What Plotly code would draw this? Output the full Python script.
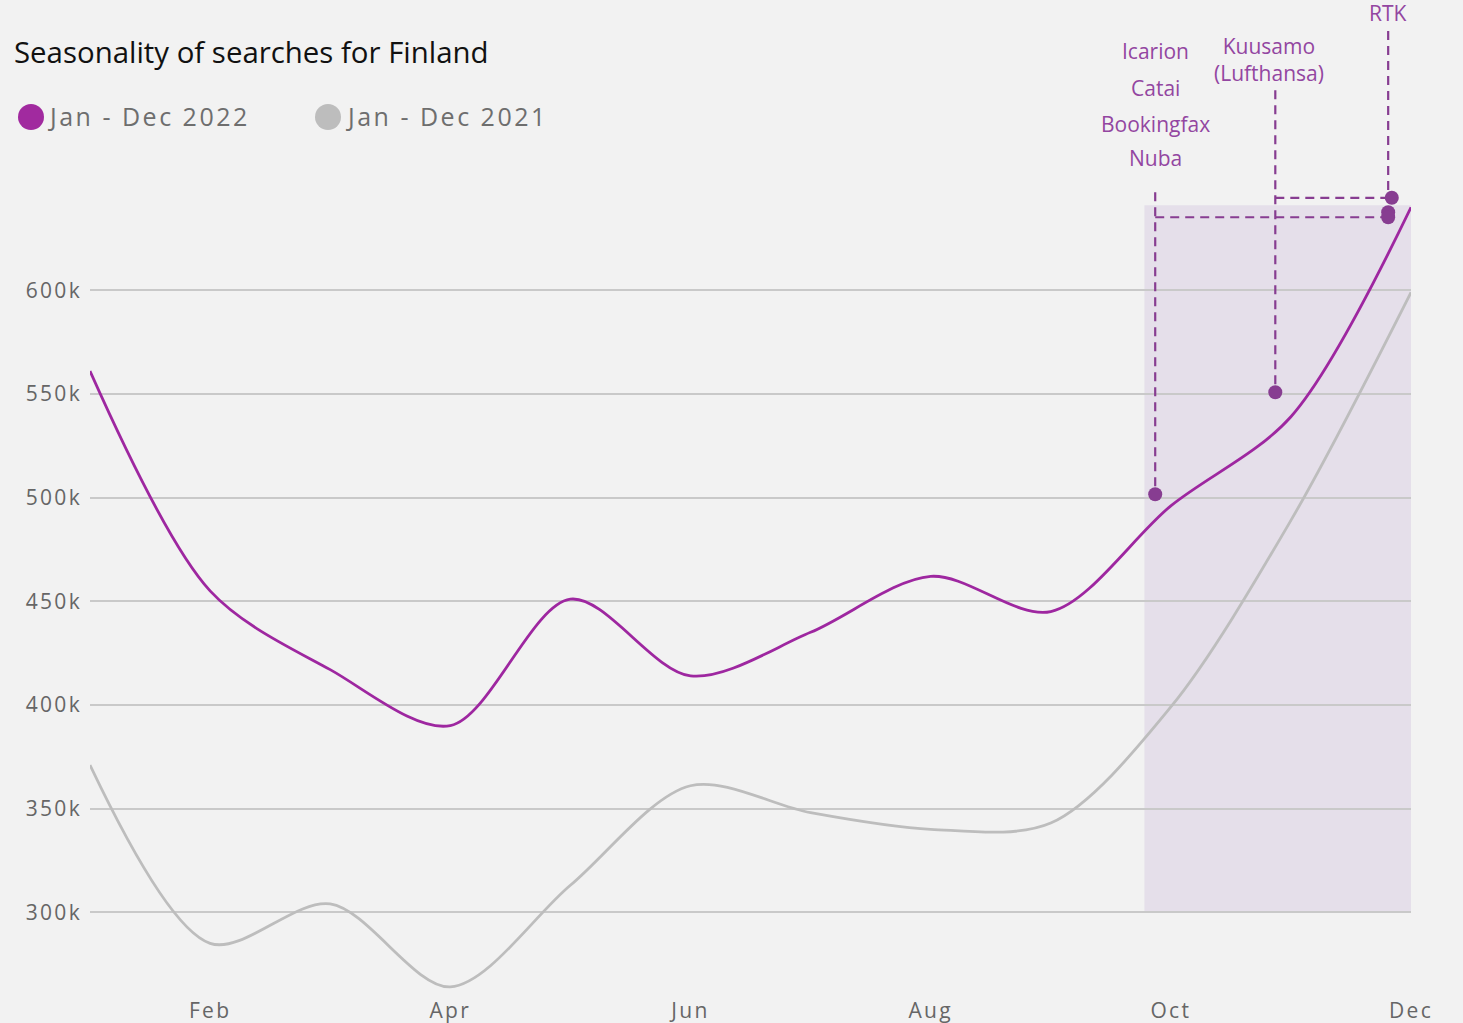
import plotly.graph_objects as go

# ---------------- data ----------------
months = list(range(12))  # Jan..Dec as month index
tick_months = [1, 3, 5, 7, 9, 11]
tick_labels = ["Feb", "Apr", "Jun", "Aug", "Oct", "Dec"]

searches_2022 = [561000, 455000, 417000, 390000, 451000, 414000,
                 435000, 462000, 445000, 496000, 539000, 640000]
searches_2021 = [371000, 285000, 304000, 264000, 313000, 361000,
                 348000, 340000, 343000, 399000, 489000, 599000]

y_ticks = [300000, 350000, 400000, 450000, 500000, 550000, 600000]
y_tick_labels = ["300k", "350k", "400k", "450k", "500k", "550k", "600k"]

# highlighted period
highlight_x = [8.78, 11]
highlight_y = [300000, 641000]

# events
events_icarion_x = 8.87
events_icarion_y = 501600
events_kuusamo_x = 9.87
events_kuusamo_y = 550800
rtk_x = 10.81
top_markers_x = [10.84, 10.81, 10.81]
top_markers_y = [644600, 637600, 635200]

labels_icarion = ["Icarion", "Catai", "Bookingfax", "Nuba"]
labels_icarion_y = [715200, 697600, 680300, 663900]
label_kuusamo = "Kuusamo<br>(Lufthansa)"
label_kuusamo_y = 711400
label_kuusamo_x = 9.82
label_rtk = "RTK"
label_rtk_y = 733600

icarion_line_top = 647300
kuusamo_line_top = 696500
rtk_line_top = 725000

series_names = ["Jan - Dec 2022", "Jan - Dec 2021"]

# ---------------- styling ----------------
BG = "#f2f2f2"
PURPLE = "#9e27a0"
GRAY = "#bdbdbd"
EVT = "#873d91"
EVT_TXT = "#9346a1"
FONT = "Open Sans"

W, H = 1463, 1023
ML, MR, MT, MB = 90, 52, 0, 32
PW = W - ML - MR
PH = H - MT - MB


def px_x(p):
    return (p - ML) / PW


def px_y(p):
    return (H - MB - p) / PH


fig = go.Figure()

fig.add_trace(go.Scatter(
    x=months, y=searches_2021, mode="lines", name=series_names[1],
    line=dict(color=GRAY, width=2.8, shape="spline", smoothing=0.9),
    showlegend=False, hoverinfo="skip"))
fig.add_trace(go.Scatter(
    x=months, y=searches_2022, mode="lines", name=series_names[0],
    line=dict(color=PURPLE, width=2.8, shape="spline", smoothing=0.9),
    showlegend=False, hoverinfo="skip"))

# event connectors
dash = "9px,6px"
fig.add_trace(go.Scatter(
    x=[events_icarion_x, events_icarion_x, None, events_icarion_x, top_markers_x[2]],
    y=[icarion_line_top, events_icarion_y, None, top_markers_y[2], top_markers_y[2]],
    mode="lines", line=dict(color=EVT, width=2.2, dash=dash),
    showlegend=False, hoverinfo="skip"))
fig.add_trace(go.Scatter(
    x=[events_kuusamo_x, events_kuusamo_x, None, events_kuusamo_x, top_markers_x[0]],
    y=[kuusamo_line_top, events_kuusamo_y, None, top_markers_y[0], top_markers_y[0]],
    mode="lines", line=dict(color=EVT, width=2.2, dash=dash),
    showlegend=False, hoverinfo="skip"))
fig.add_trace(go.Scatter(
    x=[rtk_x, rtk_x], y=[rtk_line_top, top_markers_y[0]],
    mode="lines", line=dict(color=EVT, width=2.2, dash=dash),
    showlegend=False, hoverinfo="skip"))

fig.add_trace(go.Scatter(
    x=[events_icarion_x, events_kuusamo_x] + top_markers_x,
    y=[events_icarion_y, events_kuusamo_y] + top_markers_y,
    mode="markers", marker=dict(color=EVT, size=14),
    showlegend=False, hoverinfo="skip", cliponaxis=False))

fig.add_shape(type="rect", xref="x", yref="y",
              x0=highlight_x[0], x1=highlight_x[1],
              y0=highlight_y[0], y1=highlight_y[1],
              fillcolor="#e5dfea", line=dict(width=0), layer="below")

annotations = []
# manual legend (annotation indices 0,1)
legend_text_x = [46, 344]
legend_circle_x = [31, 328]
legend_colors = ["#a12a9f", GRAY]
for name, tx in zip(series_names, legend_text_x):
    annotations.append(dict(
        text=name, xref="paper", yref="paper", x=px_x(tx), y=px_y(116),
        xanchor="left", yanchor="middle", align="left", showarrow=False,
        font=dict(family=FONT, size=25, color="#6e6e6e")))
for cx, col in zip(legend_circle_x, legend_colors):
    fig.add_shape(type="circle", xref="paper", yref="paper",
                  x0=px_x(cx - 13), x1=px_x(cx + 13),
                  y0=px_y(117 + 13), y1=px_y(117 - 13),
                  fillcolor=col, line=dict(width=0), layer="above")

for lab, ly in zip(labels_icarion, labels_icarion_y):
    annotations.append(dict(
        text=lab, xref="x", yref="y", x=events_icarion_x, y=ly,
        xanchor="center", yanchor="middle", showarrow=False,
        font=dict(family=FONT, size=21, color=EVT_TXT)))
annotations.append(dict(
    text=label_kuusamo, xref="x", yref="y", x=label_kuusamo_x, y=label_kuusamo_y,
    xanchor="center", yanchor="middle", showarrow=False,
    font=dict(family=FONT, size=21, color=EVT_TXT)))
annotations.append(dict(
    text=label_rtk, xref="x", yref="y", x=rtk_x, y=label_rtk_y,
    xanchor="center", yanchor="middle", showarrow=False,
    font=dict(family=FONT, size=21, color=EVT_TXT)))

fig.update_layout(
    width=W, height=H,
    margin=dict(l=ML, r=MR, t=MT, b=MB),
    paper_bgcolor=BG, plot_bgcolor=BG,
    showlegend=False,
    title=dict(text="Seasonality of searches for Finland",
               xref="container", yref="container",
               x=14 / W, y=1 - 53 / H, xanchor="left", yanchor="middle",
               font=dict(family=FONT, size=29.4, color="#111111")),
    annotations=annotations,
    xaxis=dict(range=[0, 11], tickvals=tick_months, ticktext=tick_labels,
               showgrid=False, zeroline=False, showline=False, ticks="",
               tickfont=dict(family=FONT, size=21, color="#666666"),
               ticklabelstandoff=5, fixedrange=True),
    yaxis=dict(range=[262000, 740000], tickvals=y_ticks, ticktext=y_tick_labels,
               showgrid=True, gridcolor="#c9c9c9", gridwidth=1.5,
               zeroline=False, showline=False, ticks="",
               tickfont=dict(family=FONT, size=21, color="#666666"),
               ticklabelstandoff=7, fixedrange=True),
)

post = """
var st=document.createElement('style');
st.textContent='html,body{margin:0;padding:0;background:#f2f2f2;overflow:hidden;} .xtick text,.ytick text{letter-spacing:2.3px;} .annotation[data-index="0"] text,.annotation[data-index="1"] text{letter-spacing:2.5px;}';
document.head.appendChild(st);
"""

fig.write_html("out.html", config={"displayModeBar": False}, post_script=post)
